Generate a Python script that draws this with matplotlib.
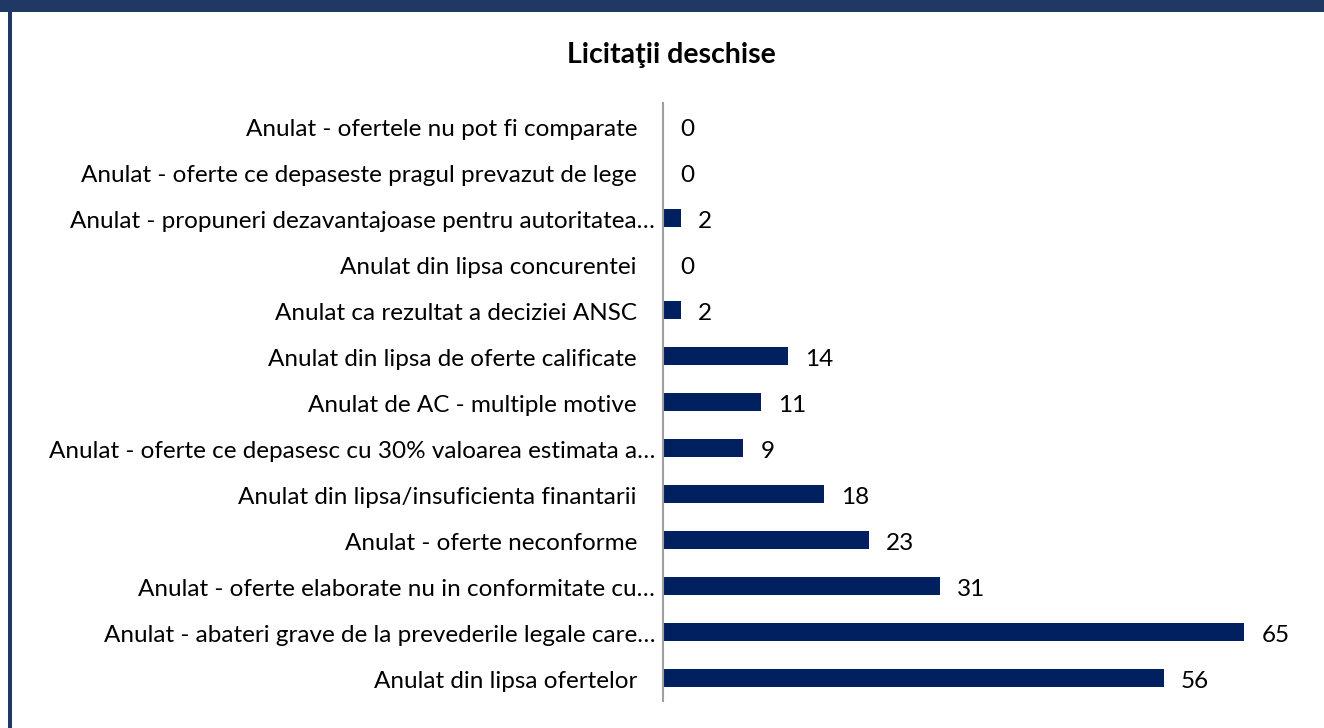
import matplotlib
matplotlib.use("Agg")
import matplotlib.pyplot as plt
from matplotlib.patches import Rectangle

categories = [
    "Anulat - ofertele nu pot fi comparate",
    "Anulat - oferte ce depaseste pragul prevazut de lege",
    "Anulat - propuneri dezavantajoase pentru autoritatea…",
    "Anulat din lipsa concurentei",
    "Anulat ca rezultat a deciziei ANSC",
    "Anulat din lipsa de oferte calificate",
    "Anulat de AC - multiple motive",
    "Anulat - oferte ce depasesc cu 30% valoarea estimata a…",
    "Anulat din lipsa/insuficienta finantarii",
    "Anulat - oferte neconforme",
    "Anulat - oferte elaborate nu in conformitate cu…",
    "Anulat - abateri grave de la prevederile legale care…",
    "Anulat din lipsa ofertelor",
]
values = [0, 0, 2, 0, 2, 14, 11, 9, 18, 23, 31, 65, 56]
title = "Licitaţii deschise"

plt.rcParams['font.family'] = ['Lato', 'DejaVu Sans']

W, H = 1324, 728
fig = plt.figure(figsize=(W / 100, H / 100), dpi=100)
fig.patch.set_facecolor("white")

# frame bands
border = "#1F3864"
fig.patches.append(Rectangle((0, 1 - 12 / H), 1, 12 / H, transform=fig.transFigure,
                             facecolor=border, edgecolor="none", zorder=0))
fig.patches.append(Rectangle((8 / W, 0), 4 / W, 1, transform=fig.transFigure,
                             facecolor=border, edgecolor="none", zorder=0))

ax = fig.add_axes([663 / W, 27 / H, 626 / W, 598 / H])
ypos = list(range(len(categories)))
ax.barh(ypos, values, height=0.4, color="#002060")
ax.set_xlim(0, 70)
ax.set_ylim(len(categories) - 0.5, -0.5)
ax.set_yticks([])
ax.set_xticks([])
for s in ["top", "right", "bottom"]:
    ax.spines[s].set_visible(False)
ax.spines["left"].set_color("#A0A0A0")
ax.spines["left"].set_linewidth(1.5)

fs = 17.5
for y, lab in zip(ypos, categories):
    off = 8 if lab.endswith("…") else 26
    ax.annotate(lab, xy=(0, y), xytext=(-off, -3), textcoords="offset pixels",
                ha="right", va="center", fontsize=fs, color="#000000",
                annotation_clip=False)

for y, v in zip(ypos, values):
    ax.annotate(str(v), xy=(v, y), xytext=(17, -4), textcoords="offset pixels",
                ha="left", va="center", fontsize=fs, color="#000000",
                annotation_clip=False)

fig.text(671 / W, 1 - 55 / H, title, ha="center", va="center", fontsize=20.5,
         fontweight="bold", color="#000000")

fig.savefig("out.png", dpi=100, facecolor="white")
